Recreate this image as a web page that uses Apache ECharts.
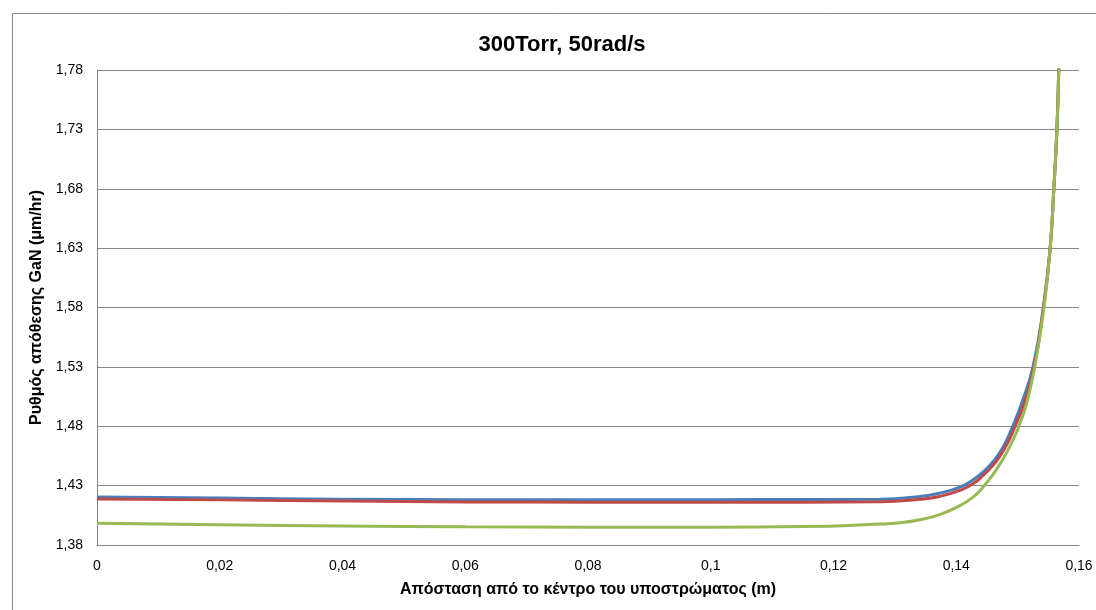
<!DOCTYPE html>
<html>
<head>
<meta charset="utf-8">
<script src="https://cdn.jsdelivr.net/npm/echarts@6/dist/echarts.min.js"></script>
<style>
html,body{margin:0;padding:0;background:#fff;}
#chart{width:1096px;height:610px;}
</style>
</head>
<body>
<div id="chart"></div>
<script>
// ---- Data ----
const titleText = '300Torr, 50rad/s';
const xAxisName = 'Απόσταση από το κέντρο του υποστρώματος (m)';
const yAxisName = 'Ρυθμός απόθεσης GaN (μm/hr)';

const blueX  = [0, 0.02, 0.04, 0.06, 0.08, 0.10, 0.115, 0.1276, 0.1341, 0.1373, 0.1406, 0.1428, 0.1444, 0.1460, 0.1477, 0.1492, 0.1507, 0.1525, 0.1542, 0.1553, 0.1559, 0.1564, 0.1567, 0.1569];
const blueY  = [1.4205, 1.4195, 1.4186, 1.4181, 1.4182, 1.4182, 1.4183, 1.4186, 1.4209, 1.4237, 1.4288, 1.4351, 1.4416, 1.4501, 1.4629, 1.4800, 1.5000, 1.5300, 1.5800, 1.6300, 1.6800, 1.7300, 1.7800, 1.8200];

const redX   = [0, 0.02, 0.04, 0.06, 0.08, 0.10, 0.115, 0.1276, 0.1341, 0.1373, 0.1406, 0.1428, 0.1444, 0.1460, 0.1477, 0.1496, 0.1511, 0.1527, 0.1542, 0.1553, 0.1559, 0.1564, 0.1567, 0.1569];
const redY   = [1.4188, 1.4180, 1.4170, 1.4163, 1.4161, 1.4160, 1.4161, 1.4164, 1.4185, 1.4209, 1.4260, 1.4317, 1.4388, 1.4473, 1.4595, 1.4800, 1.5000, 1.5300, 1.5800, 1.6300, 1.6800, 1.7300, 1.7800, 1.8200];

const greenX = [0, 0.02, 0.04, 0.06, 0.08, 0.10, 0.115, 0.1276, 0.1308, 0.1341, 0.1373, 0.1406, 0.1428, 0.1444, 0.1460, 0.1477, 0.1493, 0.1502, 0.1515, 0.1528, 0.1543, 0.1553, 0.1559, 0.1564, 0.1567, 0.1569];
const greenY = [1.3983, 1.3970, 1.3960, 1.3953, 1.3950, 1.3950, 1.3955, 1.3976, 1.3987, 1.4013, 1.4056, 1.4132, 1.4205, 1.4290, 1.4395, 1.4530, 1.4690, 1.4800, 1.5000, 1.5300, 1.5800, 1.6300, 1.6800, 1.7300, 1.7800, 1.8200];

const yTickMin = 1.38, yTickMax = 1.78, yTickStep = 0.05;
const xTickMin = 0, xTickMax = 0.16, xTickStep = 0.02;

function pairs(xs, ys){ return xs.map((x,i)=>[x, ys[i]]); }
function commaFmt(v, d){ 
  const n = parseFloat(v.toFixed(d));
  return String(n).replace('.', ',');
}

const chart = echarts.init(document.getElementById('chart'), null, {renderer:'canvas'});
const font = '"Liberation Sans", Arial, sans-serif';
const lineStyleBase = {width: 3};

chart.setOption({
  animation: false,
  backgroundColor: '#ffffff',
  title: {
    text: titleText,
    left: 557, top: 29, textAlign: 'center',
    textStyle: {fontFamily: font, fontSize: 22, fontWeight: 'bold', color: '#000'}
  },
  graphic: [{
    type: 'rect', silent: true, z: -1,
    shape: {x: 12.5, y: 13.5, width: 1110, height: 620},
    style: {fill: 'none', stroke: '#868686', lineWidth: 1}
  }],
  grid: {left: 97, right: 17, top: 70, bottom: 65, containLabel: false},
  xAxis: {
    type: 'value', min: xTickMin, max: xTickMax, interval: xTickStep,
    name: xAxisName, nameLocation: 'middle', nameGap: 37,
    nameTextStyle: {fontFamily: font, fontSize: 16, fontWeight: 'bold', color: '#000'},
    axisLine: {show: true, lineStyle: {color: '#868686', width: 1}},
    axisTick: {show: false},
    splitLine: {show: false},
    axisLabel: {margin: 14, fontFamily: font, fontSize: 14, color: '#000',
      formatter: v => commaFmt(v, 4)}
  },
  yAxis: {
    type: 'value', min: yTickMin, max: yTickMax, interval: yTickStep,
    name: yAxisName, nameLocation: 'middle', nameGap: 49, nameRotate: 90,
    nameTextStyle: {fontFamily: font, fontSize: 16, fontWeight: 'bold', color: '#000'},
    axisLine: {show: true, lineStyle: {color: '#868686', width: 1}},
    axisTick: {show: false},
    splitLine: {show: true, lineStyle: {color: '#868686', width: 1}},
    axisLabel: {margin: 14, fontFamily: font, fontSize: 14, color: '#000',
      formatter: v => commaFmt(v, 2).replace(/^(\d),(\d)$/, '$1,$20')}
  },
  series: [
    {type: 'line', name: 'blue', data: pairs(blueX, blueY), showSymbol: false, smooth: 0.5, clip: true,
     lineStyle: Object.assign({color: '#4A7EBB'}, lineStyleBase), itemStyle: {color: '#4A7EBB'}},
    {type: 'line', name: 'red', data: pairs(redX, redY), showSymbol: false, smooth: 0.5, clip: true,
     lineStyle: Object.assign({color: '#BE4B48'}, lineStyleBase), itemStyle: {color: '#BE4B48'}},
    {type: 'line', name: 'green', data: pairs(greenX, greenY), showSymbol: false, smooth: 0.5, clip: true,
     lineStyle: Object.assign({color: '#98B954'}, lineStyleBase), itemStyle: {color: '#98B954'}}
  ]
});
</script>
</body>
</html>
